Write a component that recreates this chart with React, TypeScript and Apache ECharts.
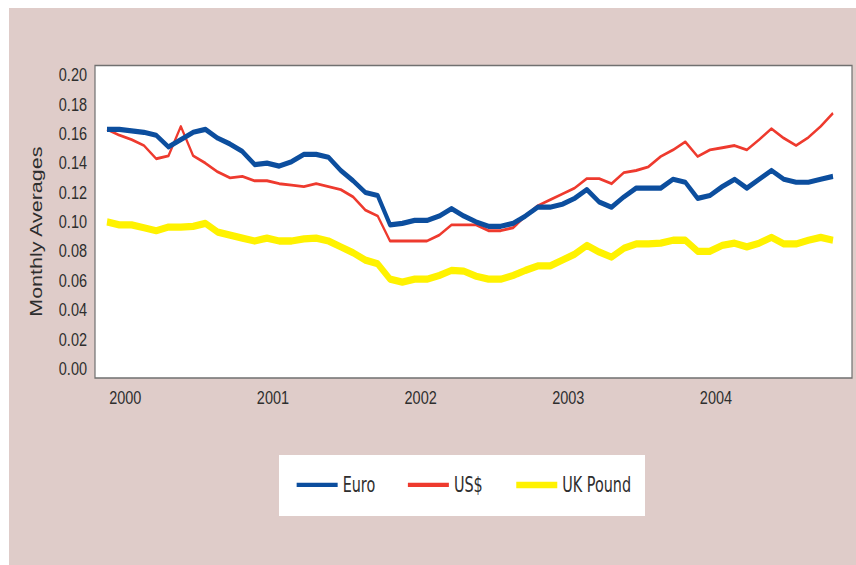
import React, { useEffect, useRef } from "react";
import * as echarts from "echarts";

const years = ["2000", "2001", "2002", "2003", "2004"];
const monthNums = ["01", "02", "03", "04", "05", "06", "07", "08", "09", "10", "11", "12"];
const categories: string[] = [];
years.forEach((y) => monthNums.forEach((m) => categories.push(y + "-" + m)));

const euro = [
  0.163, 0.163, 0.162, 0.161, 0.159, 0.151, 0.156, 0.161, 0.163, 0.157, 0.153, 0.148,
  0.139, 0.140, 0.138, 0.141, 0.146, 0.146, 0.144, 0.135, 0.128, 0.120, 0.118, 0.098,
  0.099, 0.101, 0.101, 0.104, 0.109, 0.104, 0.100, 0.097, 0.097, 0.099, 0.104, 0.110,
  0.110, 0.112, 0.116, 0.122, 0.1135, 0.110, 0.117, 0.123, 0.123, 0.123, 0.129, 0.127,
  0.116, 0.118, 0.124, 0.129, 0.123, 0.129, 0.135, 0.129, 0.127, 0.127, 0.129, 0.131,
];
const usd = [
  0.163, 0.159, 0.156, 0.152, 0.143, 0.145, 0.165, 0.145, 0.140, 0.134, 0.130, 0.131,
  0.128, 0.128, 0.126, 0.125, 0.124, 0.126, 0.124, 0.122, 0.117, 0.108, 0.104, 0.087,
  0.087, 0.087, 0.087, 0.091, 0.098, 0.098, 0.098, 0.094, 0.094, 0.096, 0.104, 0.111,
  0.115, 0.119, 0.123, 0.1295, 0.1295, 0.126, 0.1335, 0.135, 0.1375, 0.1445, 0.149, 0.1545,
  0.1445, 0.149, 0.1505, 0.152, 0.149, 0.156, 0.1635, 0.157, 0.152, 0.1575, 0.165, 0.174,
];
const ukPound = [
  0.100, 0.098, 0.098, 0.096, 0.094, 0.0965, 0.0965, 0.097, 0.099, 0.093, 0.091, 0.089,
  0.087, 0.089, 0.087, 0.087, 0.0885, 0.089, 0.087, 0.083, 0.079, 0.074, 0.0715, 0.061,
  0.059, 0.061, 0.061, 0.0635, 0.067, 0.0665, 0.063, 0.061, 0.061, 0.0635, 0.067, 0.070,
  0.070, 0.074, 0.078, 0.084, 0.0795, 0.076, 0.082, 0.085, 0.085, 0.0855, 0.0875, 0.0875,
  0.080, 0.080, 0.084, 0.0855, 0.083, 0.0855, 0.0895, 0.085, 0.085, 0.0875, 0.0895, 0.0875,
];

const seriesNames = ["Euro", "US$", "UK Pound"];
const seriesColors = ["#0C4E9E", "#EE3A2E", "#FFF200"];

const W = 847;
const H = 428;
const SY = 557 / 428;
const CONDENSED = "'DejaVu Sans Condensed', 'Liberation Sans Narrow', sans-serif";
const REGULAR = "'Liberation Sans', Arial, sans-serif";
const TEXT = "#2e2e2e";

export default function App() {
  const ref = useRef<HTMLDivElement>(null);

  useEffect(() => {
    if (!ref.current) return;
    const chart = echarts.init(ref.current, undefined, { renderer: "svg" });
    const widths = [4, 2.2, 5.6];
    const legendWidths = [3.3, 3.3, 5.1];
    const datasets = [euro, usd, ukPound];
    chart.setOption({
      animation: false,
      backgroundColor: "#DFCCC9",
      graphic: {
        elements: [
          {
            type: "rect",
            z: 0,
            shape: { x: 86, y: 44.2, width: 757, height: 240.1 },
            style: { fill: "#ffffff", stroke: "#707070", lineWidth: 1.2 },
          },
          {
            type: "rect",
            z: 0,
            shape: { x: 270, y: 343.5, width: 366, height: 46.9 },
            style: { fill: "#ffffff" },
          },
        ],
      },
      grid: { left: 98, right: 23, top: 51.48, bottom: 150.76, containLabel: false },
      xAxis: {
        type: "category",
        data: categories,
        boundaryGap: false,
        axisLine: { show: false },
        axisTick: { show: false },
        splitLine: { show: false },
        axisLabel: {
          interval: (i: number) => i % 12 === 1,
          formatter: (v: string) => v.slice(0, 4),
          color: TEXT,
          fontFamily: REGULAR,
          fontSize: 14.5,
          margin: 15,
          padding: [0, 0, 0, 12],
        },
      },
      yAxis: {
        type: "value",
        min: 0,
        max: 0.2,
        interval: 0.02,
        axisLine: { show: false },
        axisTick: { show: false },
        splitLine: { show: false },
        axisLabel: {
          formatter: (v: number) => v.toFixed(2),
          color: TEXT,
          fontFamily: REGULAR,
          fontSize: 14.5,
          margin: 20,
        },
        name: "Monthly Averages",
        nameLocation: "middle",
        nameGap: 62,
        nameRotate: 90,
        nameTextStyle: {
          color: TEXT,
          fontFamily: REGULAR,
          fontSize: 16.5,
          padding: [0, 15, 0, 0],
        },
      },
      legend: {
        left: 286,
        top: 358.5,
        padding: 0,
        itemWidth: 41,
        itemHeight: 2,
        itemGap: 31,
        textStyle: { color: TEXT, fontFamily: CONDENSED, fontSize: 16 },
        data: seriesNames.map((n, i) => ({
          name: n,
          lineStyle: { color: seriesColors[i], width: legendWidths[i] },
          itemStyle: { color: seriesColors[i], borderWidth: 0 },
        })),
      },
      series: datasets.map((d, i) => ({
        name: seriesNames[i],
        type: "line",
        data: d,
        symbol: "none",
        showSymbol: false,
        z: 3 + (2 - i),
        lineStyle: { color: seriesColors[i], width: widths[i], join: "round" },
        itemStyle: { color: seriesColors[i] },
      })),
    });
    return () => chart.dispose();
  }, []);

  return (
    <div
      ref={ref}
      style={{
        position: "fixed",
        left: 9,
        top: 8,
        width: W,
        height: H,
        transform: `scaleY(${SY})`,
        transformOrigin: "0 0",
      }}
    />
  );
}
